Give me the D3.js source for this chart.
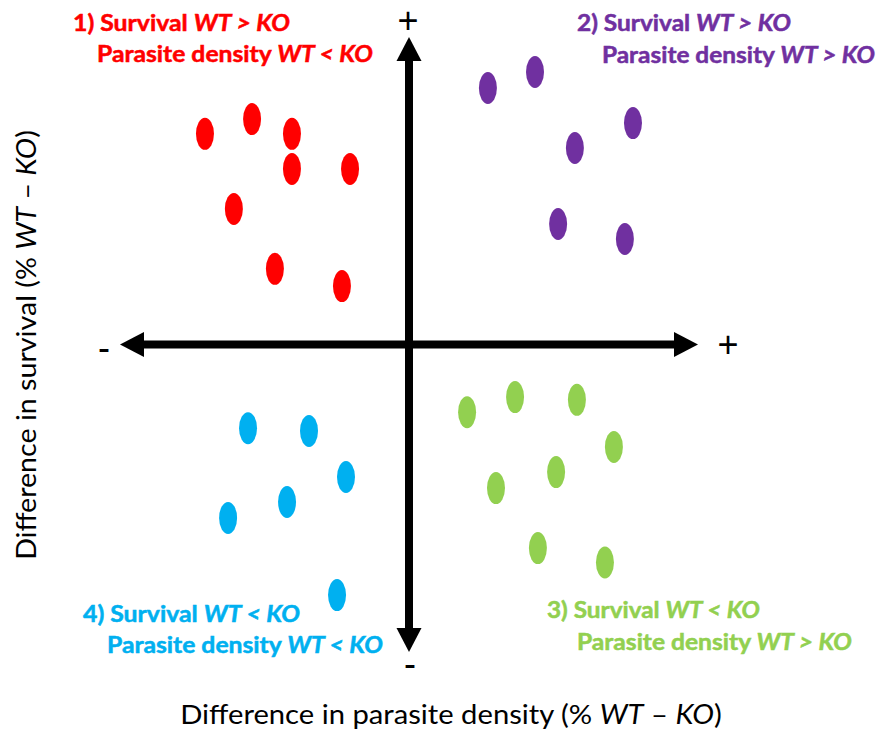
<!DOCTYPE html>
<html>
<head>
<meta charset="utf-8">
<script src="https://cdn.jsdelivr.net/npm/d3@7"></script>
<style>
  html, body { margin: 0; padding: 0; background: #fff; }
  svg { display: block; }
</style>
</head>
<body>
<svg id="chart" width="879" height="731"></svg>
<script>
// ---- Data (values in % WT - KO, conceptual scale -100..100) ----
const quadrants = ["1", "2", "3", "4"];
const quadrantColors = ["#FF0000", "#7030A0", "#92D050", "#00B0F0"];

// Quadrant 1: survival WT > KO, parasite density WT < KO (red)
const q1X = [-70.6, -54.3, -40.5, -40.5, -20.4, -60.6, -46.4, -23.2];
const q1Y = [68.5, 73.3, 68.5, 57.1, 57.1, 44.1, 24.6, 19.0];
// Quadrant 2: survival WT > KO, parasite density WT > KO (purple)
const q2X = [27.3, 43.6, 77.5, 57.4, 51.6, 74.7];
const q2Y = [83.4, 88.6, 72.0, 63.9, 39.2, 34.3];
// Quadrant 3: survival WT < KO, parasite density WT > KO (green)
const q3X = [20.1, 36.7, 58.1, 70.9, 50.9, 30.1, 44.6, 67.8];
const q3Y = [-22.0, -17.1, -18.0, -33.3, -41.5, -46.7, -66.2, -70.9];
// Quadrant 4: survival WT < KO, parasite density WT < KO (blue)
const q4X = [-55.7, -34.6, -21.8, -62.6, -42.2, -24.9];
const q4Y = [-27.2, -28.1, -43.1, -56.4, -51.2, -81.5];

const line1Labels = ["1) Survival ", "2) Survival ", "3) Survival ", "4) Survival "];
const line1Italic = ["WT > KO", "WT > KO", "WT < KO", "WT < KO"];
const line2Italic = ["WT < KO", "WT > KO", "WT > KO", "WT < KO"];

const xTitle = ["Difference in parasite density (% ", "WT", " \u2013 ", "KO", ")"];
const yTitle = ["Difference in survival (% ", "WT", " \u2013 ", "KO", ")"];

// ---- Chart ----
const svg = d3.select("#chart");
const font = "Lato, 'Open Sans', sans-serif";

const x = d3.scaleLinear().domain([-100, 100]).range([120, 698]);
const y = d3.scaleLinear().domain([-100, 100]).range([652, 37]);

const x0 = x(0), y0 = y(0);

// Axis arrows
const stroke = 8;
const headL = 24, headW = 12.5;

svg.append("line")
  .attr("x1", x(-100) + headL - 2).attr("x2", x(100) - headL + 2)
  .attr("y1", y0).attr("y2", y0)
  .attr("stroke", "#000").attr("stroke-width", stroke);
svg.append("line")
  .attr("x1", x0).attr("x2", x0)
  .attr("y1", y(100) + headL - 2).attr("y2", y(-100) - headL + 2)
  .attr("stroke", "#000").attr("stroke-width", stroke);

const heads = [
  [[x(-100), y0], [x(-100) + headL, y0 - headW], [x(-100) + headL, y0 + headW]],
  [[x(100), y0], [x(100) - headL, y0 - headW], [x(100) - headL, y0 + headW]],
  [[x0, y(100)], [x0 - headW, y(100) + headL], [x0 + headW, y(100) + headL]],
  [[x0, y(-100)], [x0 - headW, y(-100) - headL], [x0 + headW, y(-100) - headL]]
];
svg.selectAll("polygon.head").data(heads).enter().append("polygon")
  .attr("class", "head")
  .attr("points", d => d.map(p => p.join(",")).join(" "))
  .attr("fill", "#000");

// + / - signs
const signs = [
  {t: "+", px: x0 - 1, py: 20},
  {t: "+", px: x(100) + 30, py: y0},
  {t: "-", px: x(-100) - 16, py: y0 + 3},
  {t: "-", px: x0 + 1, py: 663}
];
svg.selectAll("text.sign").data(signs).enter().append("text")
  .attr("class", "sign")
  .attr("x", d => d.px).attr("y", d => d.py)
  .attr("text-anchor", "middle")
  .attr("dominant-baseline", "central")
  .attr("font-family", "Arial, 'Liberation Sans', sans-serif")
  .attr("font-size", 36)
  .text(d => d.t);

// Points
const series = [
  {xs: q1X, ys: q1Y, c: quadrantColors[0]},
  {xs: q2X, ys: q2Y, c: quadrantColors[1]},
  {xs: q3X, ys: q3Y, c: quadrantColors[2]},
  {xs: q4X, ys: q4Y, c: quadrantColors[3]}
];
series.forEach(s => {
  svg.append("g").selectAll("ellipse")
    .data(s.xs.map((v, i) => [v, s.ys[i]]))
    .enter().append("ellipse")
    .attr("cx", d => x(d[0])).attr("cy", d => y(d[1]))
    .attr("rx", 9).attr("ry", 16)
    .attr("fill", s.c);
});

// helper: fit a text horizontally to a target width
function fitText(g, textSel, px, py, targetW, anchorMiddle, rotate) {
  const w = textSel.node().getBBox().width;
  const sx = targetW / w;
  g.attr("transform", `translate(${px},${py})` + (rotate ? ` rotate(${rotate})` : "") + ` scale(${sx},1)`);
}

// Quadrant labels: [x1, baseline1, width1, x2, baseline2, width2]
const labelPos = [
  [73, 31, 217, 97, 62, 276],
  [577, 31, 214, 602, 63, 273],
  [547, 618, 213, 577, 650, 275],
  [83, 622, 217, 107, 653, 276]
];
quadrants.forEach((q, i) => {
  const p = labelPos[i];
  const lines = [
    [line1Labels[i], line1Italic[i], p[0], p[1], p[2]],
    ["Parasite density ", line2Italic[i], p[3], p[4], p[5]]
  ];
  lines.forEach(L => {
    const g = svg.append("g");
    const t = g.append("text")
      .attr("x", 0).attr("y", 0)
      .attr("font-family", font).attr("font-weight", "bold")
      .attr("font-size", 22).attr("fill", quadrantColors[i])
      .attr("stroke", quadrantColors[i]).attr("stroke-width", 0.5);
    t.append("tspan").text(L[0]);
    t.append("tspan").attr("font-style", "italic").text(L[1]);
    fitText(g, t, L[2], L[3], L[4]);
  });
});

// Axis titles
function addTitle(parts, px, py, targetW, rotate) {
  const g = svg.append("g");
  const t = g.append("text")
    .attr("x", 0).attr("y", 0)
    .attr("font-family", font).attr("font-size", 27)
    .attr("text-anchor", "middle").attr("fill", "#000");
  parts.forEach((s, i) => {
    t.append("tspan").attr("font-style", (i === 1 || i === 3) ? "italic" : "normal").text(s);
  });
  fitText(g, t, px, py, targetW, true, rotate);
}
addTitle(xTitle, 451, 724, 542, 0);
addTitle(yTitle, 36, 345, 430, -90);
</script>
</body>
</html>
